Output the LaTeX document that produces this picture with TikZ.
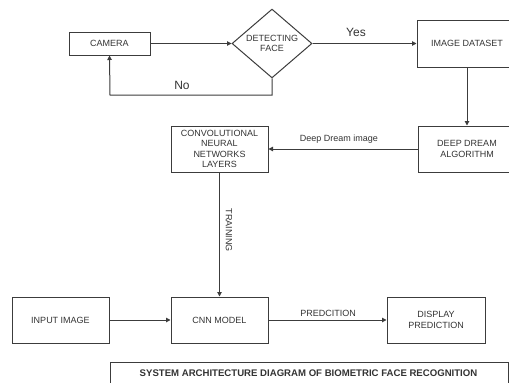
\documentclass[tikz,border=0pt]{standalone}
\usepackage{fontspec}
\setmainfont{Liberation Sans}
\usetikzlibrary{shapes.geometric,arrows.meta}
\definecolor{ln}{HTML}{3C3C3C}
\definecolor{tx}{HTML}{333333}
\tikzset{
  box/.style={draw=ln, line width=1pt, rectangle, inner sep=0pt, align=center, text=tx, font=\fontsize{9}{10.5}\selectfont},
  arr/.style={draw=ln, line width=1pt, -{Triangle[length=4.5pt,width=4.5pt]}},
  lab/.style={text=tx, inner sep=0pt},
}
\begin{document}
\begin{tikzpicture}[x=1pt,y=-1pt]
\useasboundingbox (0,0) rectangle (509,383);
\begin{scope}
\clip (0,0) rectangle (509,383);
\node[box, minimum width=81, minimum height=23] (cam) at (109.5,43.5) {CAMERA};
\node[box, diamond, minimum width=80, minimum height=67] (det) at (272,43.5) {DETECTING\\FACE};
\node[box, minimum width=100, minimum height=47] (ids) at (467,43.5) {IMAGE DATASET};
\node[box, minimum width=98, minimum height=46] (dda) at (467,149) {DEEP DREAM\\ALGORITHM};
\node[box, minimum width=97, minimum height=46] (cnl) at (219.5,149) {CONVOLUTIONAL\\NEURAL\\NETWORKS\\LAYERS};
\node[box, minimum width=97, minimum height=46] (inp) at (60.5,320) {INPUT IMAGE};
\node[box, minimum width=97, minimum height=46] (cnn) at (219.5,320) {CNN MODEL};
\node[box, minimum width=98, minimum height=46] (dsp) at (436,320) {DISPLAY\\PREDICTION};
\node[box, minimum width=398, minimum height=30, anchor=north west] (ttl) at (110,362) {};
\node[lab, font=\bfseries\fontsize{9.6}{11}\selectfont] (ttltext) at (308.5,373) {SYSTEM ARCHITECTURE DIAGRAM OF BIOMETRIC FACE RECOGNITION};

\coordinate (nob) at (272,95);
\coordinate (noc) at (110,95);
\draw[arr] (cam) -- (det.west);
\draw[arr] (det.east) -- (ids.west |- det.east);
\draw[arr] (det.south) -- (nob) -- (noc) -- (cam.south);
\draw[arr] (ids.south) -- (dda.north);
\draw[arr] (dda.west) -- (cnl.east);
\draw[arr] (cnl.south) -- (cnn.north);
\draw[arr] (inp) -- (cnn);
\draw[arr] (cnn) -- (dsp);

\node[lab, font=\fontsize{12}{14}\selectfont] (yes) at (356,32) {Yes};
\node[lab, font=\fontsize{12}{14}\selectfont] (no) at (182,85) {No};
\node[lab, font=\fontsize{9}{10.5}\selectfont] (ddl) at (339,139) {Deep Dream image};
\node[lab, font=\fontsize{9}{10.5}\selectfont, rotate=-90] (trn) at (229,230) {TRAINING};
\node[lab, font=\fontsize{9}{10.5}\selectfont] (prd) at (328,313) {PREDCITION};
\end{scope}
\end{tikzpicture}
\end{document}
